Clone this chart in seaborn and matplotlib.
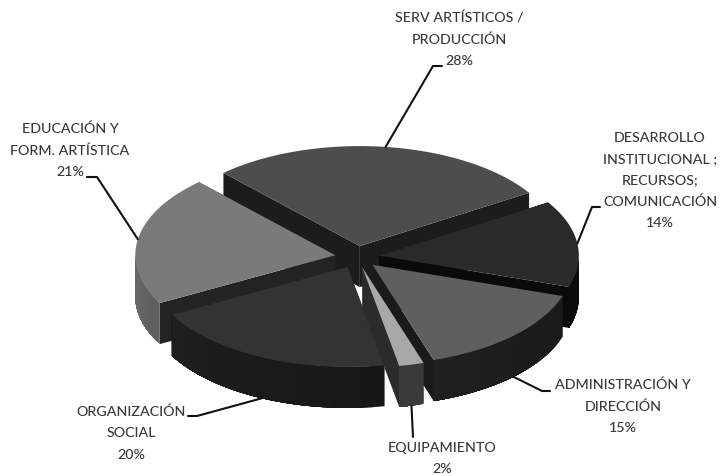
import numpy as np
import matplotlib
matplotlib.use("Agg")
import matplotlib.pyplot as plt
import seaborn as sns

# ---- data (clockwise, starting at SERV)
categories = ["SERV ARTÍSTICOS /\nPRODUCCIÓN",
              "DESARROLLO\nINSTITUCIONAL ;\nRECURSOS;\nCOMUNICACIÓN",
              "ADMINISTRACIÓN Y\nDIRECCIÓN",
              "EQUIPAMIENTO",
              "ORGANIZACIÓN\nSOCIAL",
              "EDUCACIÓN Y\nFORM. ARTÍSTICA"]
shares = [28, 14, 15, 2, 20, 21]

# ---- styling
top_colors = ["#4d4d4d", "#2a2a2a", "#5f5f5f", "#a8a8a8", "#333333", "#7a7a7a"]
wall_left = ["#1c1c1c", "#0a0a0a", "#1f1f1f", "#3a3a3a", "#1e1e1e", "#6a6a6a"]
wall_right = ["#1c1c1c", "#0d0d0d", "#1a1a1a", "#3a3a3a", "#171717", "#5e5e5e"]
radial_colors = ["#1c1c1c", "#0a0a0a", "#1a1a1a", "#2b2b2b", "#1a1a1a", "#232323"]
draw_order = [0, 5, 1, 4, 2, 3]

# ---- layout in figure pixels
CX, CY, R, SQUASH, DEPTH, EXPLODE, START = 357, 257, 200, 0.5, 41, 22, -43
label_pos = [(459, 18), (660, 138), (623, 385), (442, 448), (131, 412), (70, 129)]
elbows = [[(433, 66), (442, 66)], [(592, 207), (600, 207)], [(542, 391), (550, 391)],
          [(413, 437)], [(197, 416), (188, 416)], [(97, 177), (87, 177)]]
LINE_PX = 21.3

sns.set_theme(style="white")
plt.rcParams["font.family"] = ["Lato", "DejaVu Sans"]
fig = plt.figure(figsize=(7.21, 4.76), dpi=100)
ax = fig.add_axes([0, 0, 1, 1])
ax.set_xlim(0, 721)
ax.set_ylim(476, 0)
ax.axis("off")


def project(theta, radius, apex):
    """theta: degrees clockwise from the top of the pie."""
    t = np.radians(theta)
    return apex[0] + radius * np.sin(t), apex[1] - radius * SQUASH * np.cos(t)


bounds = START + np.concatenate([[0], np.cumsum(shares)]) * 360 / sum(shares)
apexes, mids = [], []
for i in range(len(shares)):
    mid = (bounds[i] + bounds[i + 1]) / 2
    mids.append(mid)
    apexes.append(project(mid, EXPLODE, (CX, CY)))

for i in draw_order:
    a0, a1 = bounds[i], bounds[i + 1]
    apex = apexes[i]
    th = np.linspace(a0, a1, 80)
    x, y = project(th, R, apex)
    # radial walls
    for xe, ye in ((x[0], y[0]), (x[-1], y[-1])):
        ax.fill([apex[0], xe, xe, apex[0]], [apex[1], ye, ye + DEPTH, apex[1] + DEPTH],
                color=radial_colors[i], lw=0, zorder=2)
    # rim wall, only where it faces the viewer; bands overlap so no seams show
    lo, hi = max(a0, 90), min(a1, 270)
    if hi > lo:
        n = 24
        pal = sns.blend_palette([wall_left[i], wall_right[i]], n)
        edges = np.linspace(lo, hi, n + 1)
        for k in range(n):
            tt = np.linspace(edges[k], hi, 40)
            xx, yy = project(tt, R, apex)
            ax.fill(np.r_[xx, xx[::-1]], np.r_[yy, yy[::-1] + DEPTH],
                    color=pal[n - 1 - k], lw=0, zorder=2)
    # top face
    ax.fill(np.r_[apex[0], x], np.r_[apex[1], y], color=top_colors[i], lw=0, zorder=2)

for i, (name, share) in enumerate(zip(categories, shares)):
    ax_x, ax_y = project(mids[i], R, apexes[i])
    if 90 < mids[i] < 270:
        ax_y += DEPTH
    pts = [(ax_x, ax_y)] + elbows[i]
    ax.plot(*zip(*pts), color="#111111", lw=1.5, zorder=3, solid_joinstyle="miter")
    lines = name.split("\n") + [f"{share}%"]
    lx, ly = label_pos[i]
    for j, line in enumerate(lines):
        ax.text(lx, ly + j * LINE_PX, line, ha="center", va="center",
                fontsize=10.3, fontweight="medium", color="#383838", zorder=4)

fig.savefig("out.png", dpi=100, facecolor="white")
